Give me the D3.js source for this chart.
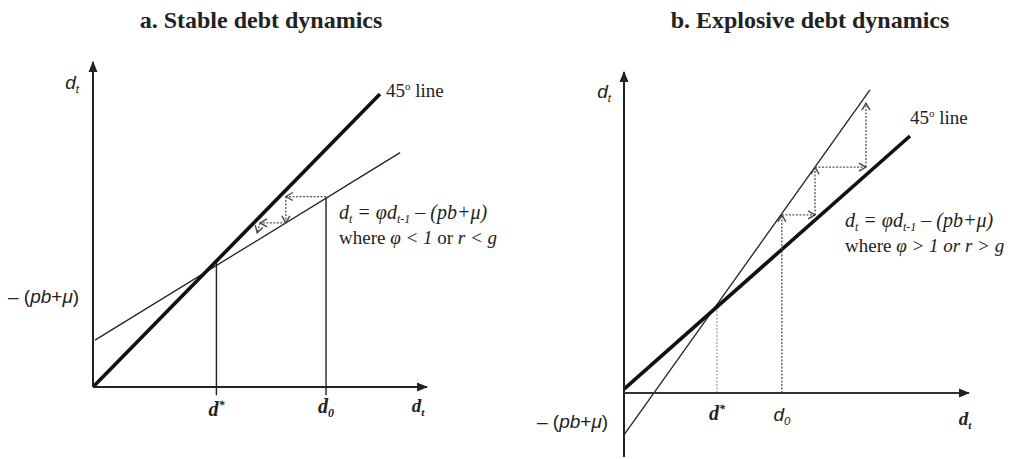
<!DOCTYPE html>
<html>
<head>
<meta charset="utf-8">
<script src="https://cdn.jsdelivr.net/npm/d3@7"></script>
<style>
  body { margin: 0; background: #fff; }
  svg { display: block; }
</style>
</head>
<body>
<div id="chart"></div>
<script>
// Panel a: stable debt dynamics (phi < 1), values in model units
const stableLine45 = [[0, 0], [10, 10]];
const stableDebtLine = [[0.07, 1.6], [10.7, 8.0]];
const stableCobweb = [[8.12, 6.5], [6.72, 6.5], [6.72, 5.6], [5.82, 5.6], [5.72, 5.26]];
const stableStar = [4.3, 4.25];
const stableD0 = [8.12, 6.48];
const stableAxisMax = [11.64, 11.09];

// Panel b: explosive debt dynamics (phi > 1)
const explLine45 = [[0, 0.15], [10, 10]];
const explDebtLine = [[0, -1.63], [8.6, 11.79]];
const explCobweb = [[5.52, 0], [5.52, 6.93], [6.68, 6.93], [6.68, 8.79], [8.46, 8.79], [8.46, 11.28]];
const explStar = [3.25, 3.42];
const explAxisMin = [0, -2.49];
const explAxisMax = [12.06, 12.49];

const titles = ['a. Stable debt dynamics', 'b. Explosive debt dynamics'];

const width = 1014, height = 459;
const ink = '#222';

const svg = d3.select('#chart').append('svg')
  .attr('width', width)
  .attr('height', height);

const defs = svg.append('defs');
defs.append('marker')
  .attr('id', 'tri')
  .attr('viewBox', '0 -5 11 10')
  .attr('refX', 10).attr('refY', 0)
  .attr('markerUnits', 'userSpaceOnUse')
  .attr('markerWidth', 11).attr('markerHeight', 10)
  .attr('orient', 'auto')
  .append('path')
  .attr('d', 'M0,-4.5L11,0L0,4.5Z')
  .attr('fill', ink);
defs.append('marker')
  .attr('id', 'chev')
  .attr('viewBox', '-1 -5 10 10')
  .attr('refX', 7).attr('refY', 0)
  .attr('markerUnits', 'userSpaceOnUse')
  .attr('markerWidth', 10).attr('markerHeight', 10)
  .attr('orient', 'auto')
  .append('path')
  .attr('d', 'M0,-4L7,0L0,4')
  .attr('fill', 'none')
  .attr('stroke', '#444')
  .attr('stroke-width', 1.3);

const serif = '"Liberation Serif", "Times New Roman", serif';
const sans = '"Liberation Sans", Arial, sans-serif';

// scales for each panel
const xA = d3.scaleLinear().domain([0, 10]).range([93, 380]);
const yA = d3.scaleLinear().domain([0, 10]).range([387, 94]);
const xB = d3.scaleLinear().domain([0, 10]).range([624, 910]);
const yB = d3.scaleLinear().domain([0, 10]).range([393, 136]);

function line(x, y) {
  return d3.line().x(d => x(d[0])).y(d => y(d[1]));
}

// italic d with a subscript or superscript
function dLabel(g, px, py, sub, sup, size) {
  const t = g.append('text')
    .attr('x', px).attr('y', py)
    .attr('text-anchor', 'middle')
    .attr('font-family', serif)
    .attr('font-style', 'italic')
    .attr('font-weight', 'bold')
    .attr('font-size', size)
    .attr('fill', ink);
  t.append('tspan').text('d');
  if (sub) t.append('tspan').attr('dy', 4).attr('font-size', size * 0.6).text(sub);
  if (sup) t.append('tspan').attr('dy', -7).attr('font-size', size * 0.6).text(sup);
  return t;
}

function pbLabel(g, px, py) {
  const t = g.append('text')
    .attr('x', px).attr('y', py)
    .attr('font-family', sans)
    .attr('font-size', 19)
    .attr('fill', ink);
  t.append('tspan').text('\u2013 (');
  t.append('tspan').attr('font-style', 'italic').text('pb');
  t.append('tspan').text('+');
  t.append('tspan').attr('font-style', 'italic').text('\u03bc');
  t.append('tspan').text(')');
}

function equation(g, px, py, rel) {
  const t = g.append('text')
    .attr('x', px).attr('y', py)
    .attr('font-family', serif)
    .attr('font-style', 'italic')
    .attr('font-size', 20)
    .attr('fill', ink);
  t.append('tspan').text('d');
  t.append('tspan').attr('dy', 4).attr('font-size', 12).text('t');
  t.append('tspan').attr('dy', -4).text(' = \u03c6d');
  t.append('tspan').attr('dy', 4).attr('font-size', 12).text('t-1');
  t.append('tspan').attr('dy', -4).text(' \u2013 (pb+\u03bc)');

  const w = g.append('text')
    .attr('x', px).attr('y', py + 25)
    .attr('font-family', serif)
    .attr('font-size', 19)
    .attr('fill', ink);
  w.append('tspan').text('where ');
  w.append('tspan').attr('font-style', 'italic').text('\u03c6 ' + rel + ' 1');
  w.append('tspan').attr('font-style', rel === '>' ? 'italic' : 'normal').text(' or ');
  w.append('tspan').attr('font-style', 'italic').text('r ' + rel + ' g');
}

function label45(g, px, py) {
  const t = g.append('text')
    .attr('x', px).attr('y', py)
    .attr('font-family', serif)
    .attr('font-size', 19)
    .attr('fill', ink);
  t.append('tspan').text('45');
  t.append('tspan').attr('dy', -7).attr('font-size', 11).text('o');
  t.append('tspan').attr('dy', 7).text(' line');
}

function cobweb(g, pts, x, y) {
  for (let i = 1; i < pts.length; i++) {
    g.append('path')
      .attr('d', line(x, y)([pts[i - 1], pts[i]]))
      .attr('fill', 'none')
      .attr('stroke', '#555')
      .attr('stroke-width', 1.3)
      .attr('stroke-dasharray', '2,1.5')
      .attr('marker-end', 'url(#chev)');
  }
}

// titles
svg.selectAll('text.title')
  .data(titles)
  .enter()
  .append('text')
  .attr('class', 'title')
  .attr('x', (d, i) => i === 0 ? 261 : 810)
  .attr('y', 28)
  .attr('text-anchor', 'middle')
  .attr('font-family', serif)
  .attr('font-weight', 'bold')
  .attr('font-size', 24)
  .attr('fill', ink)
  .text(d => d);

// ---------- panel a ----------
const gA = svg.append('g');

// verticals at d* and d0
[stableStar, stableD0].forEach(p => {
  gA.append('path')
    .attr('d', line(xA, yA)([[p[0], -0.28], p]))
    .attr('stroke', ink)
    .attr('stroke-width', 1.4);
});

gA.append('path')
  .attr('d', line(xA, yA)(stableDebtLine))
  .attr('stroke', ink)
  .attr('stroke-width', 1.3);
gA.append('path')
  .attr('d', line(xA, yA)(stableLine45))
  .attr('stroke', '#111')
  .attr('stroke-width', 3.6);

cobweb(gA, stableCobweb, xA, yA);

// axes
gA.append('path')
  .attr('d', line(xA, yA)([[0, 0], [0, stableAxisMax[1]]]))
  .attr('stroke', ink).attr('stroke-width', 2)
  .attr('marker-end', 'url(#tri)');
gA.append('path')
  .attr('d', line(xA, yA)([[0, 0], [stableAxisMax[0], 0]]))
  .attr('stroke', ink).attr('stroke-width', 2)
  .attr('marker-end', 'url(#tri)');

dLabel(gA, 72, 89, 't', null, 19).attr('font-weight', 'normal').attr('font-family', sans);
dLabel(gA, xA(stableStar[0]), 416, null, '*', 20);
dLabel(gA, xA(stableD0[0]), 413, '0', null, 20);
dLabel(gA, 418, 412, 't', null, 19);
pbLabel(gA, 8, 303);
label45(gA, 386, 97);
equation(gA, 339, 219, '<');

// ---------- panel b ----------
const gB = svg.append('g');

gB.append('path')
  .attr('d', line(xB, yB)([[explStar[0], 0], explStar]))
  .attr('stroke', '#999')
  .attr('stroke-width', 1.2)
  .attr('stroke-dasharray', '2,1.5');

gB.append('path')
  .attr('d', line(xB, yB)(explDebtLine))
  .attr('stroke', ink)
  .attr('stroke-width', 1.3);
gB.append('path')
  .attr('d', line(xB, yB)(explLine45))
  .attr('stroke', '#111')
  .attr('stroke-width', 3.6);

cobweb(gB, explCobweb, xB, yB);

gB.append('path')
  .attr('d', line(xB, yB)([[0, explAxisMin[1]], [0, explAxisMax[1]]]))
  .attr('stroke', ink).attr('stroke-width', 2)
  .attr('marker-end', 'url(#tri)');
gB.append('path')
  .attr('d', line(xB, yB)([[0, 0], [explAxisMax[0], 0]]))
  .attr('stroke', '#333').attr('stroke-width', 2)
  .attr('marker-end', 'url(#tri)');

dLabel(gB, 604, 98, 't', null, 19).attr('font-weight', 'normal').attr('font-family', sans);
dLabel(gB, xB(explStar[0]), 420, null, '*', 20);
dLabel(gB, xB(explCobweb[0][0]), 421, '0', null, 19).attr('font-weight', 'normal').attr('font-family', sans);
dLabel(gB, 965, 425, 't', null, 19);
pbLabel(gB, 537, 428);
label45(gB, 910, 124);
equation(gB, 845, 227, '>');
</script>
</body>
</html>
